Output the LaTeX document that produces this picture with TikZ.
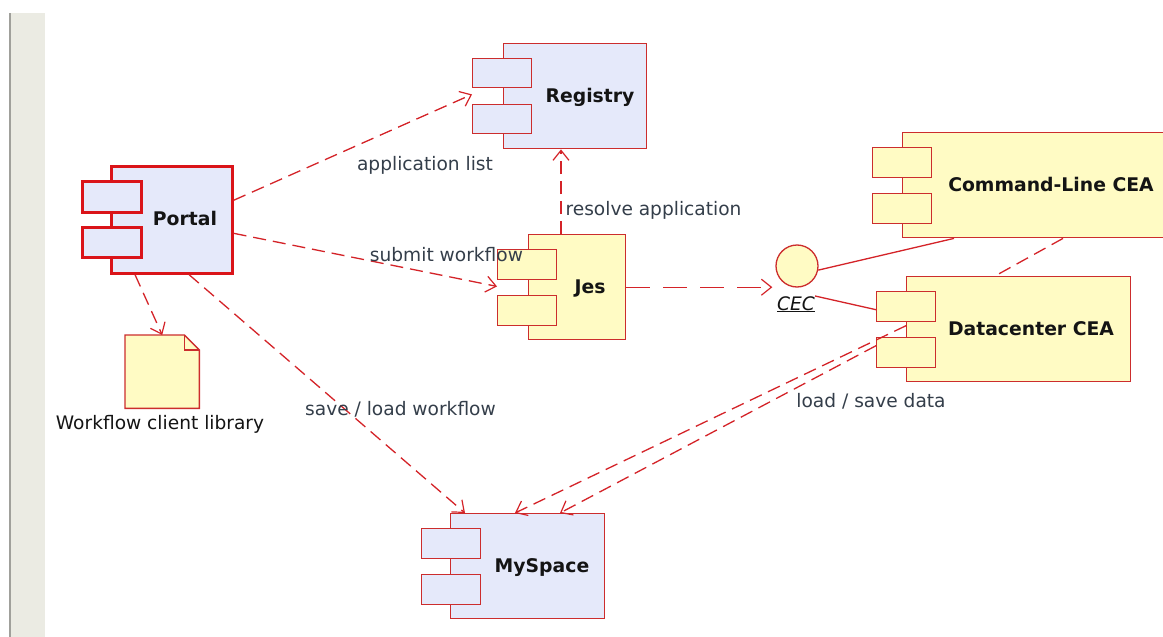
\documentclass[tikz,border=0pt]{standalone}
\usepackage{fontspec}
\setmainfont{DejaVu Sans}
\usetikzlibrary{arrows.meta,calc}
\definecolor{bord}{RGB}{204,45,45}
\definecolor{portalred}{RGB}{218,20,25}
\definecolor{lnred}{RGB}{212,35,40}
\definecolor{bluef}{RGB}{229,233,250}
\definecolor{yelf}{RGB}{255,251,196}
\definecolor{barf}{RGB}{235,235,227}
\definecolor{barl}{RGB}{160,160,155}
\definecolor{lblc}{RGB}{52,62,74}
\definecolor{namec}{RGB}{20,20,20}
\begin{document}
\begin{tikzpicture}[x=1pt,y=-1pt,
  outer/.style={draw=bord, line width=1.4pt, inner sep=0pt, anchor=north west},
  sbox/.style={draw=bord, line width=1.4pt, inner sep=0pt, anchor=north west, minimum width=59pt, minimum height=30pt},
  nm/.style={font=\fontsize{18.8pt}{22pt}\selectfont\bfseries, text=namec, inner sep=0pt, anchor=base},
  lb/.style={font=\fontsize{18.6pt}{22pt}\selectfont, text=lblc, inner sep=0pt, anchor=base},
  dep/.style={draw=lnred, line width=1.3pt, dash pattern=on 13pt off 7pt,
    -{Straight Barb[length=10pt,width=16pt,line width=1.2pt]}},
  depl/.style={draw=lnred, line width=1.3pt, dash pattern=on 13pt off 7pt},
  solidl/.style={draw=lnred, line width=1.3pt}]
\useasboundingbox (0,0) rectangle (1163,637);
\fill[white] (0,0) rectangle (1163,637);
\fill[barf] (9,13) rectangle (45,637);
\draw[barl, line width=1.5pt] (9.75,13) -- (9.75,637);

% Portal
\node[outer, fill=bluef, draw=portalred, line width=2.6pt, minimum width=121pt, minimum height=107pt] (portal) at (110,165) {};
\node[sbox, fill=bluef, draw=portalred, line width=2.6pt, minimum height=31pt] (portalA) at (81,180) {};
\node[sbox, fill=bluef, draw=portalred, line width=2.6pt] (portalB) at (81,226) {};
% Registry
\node[outer, fill=bluef, minimum width=143pt, minimum height=105pt] (registry) at (503,43) {};
\node[sbox, fill=bluef, minimum height=29pt] (regA) at (472,58) {};
\node[sbox, fill=bluef, minimum height=29pt] (regB) at (472,104) {};
% Jes
\node[outer, fill=yelf, minimum width=97pt, minimum height=105pt] (jes) at (528,234) {};
\node[sbox, fill=yelf] (jesA) at (497,249) {};
\node[sbox, fill=yelf] (jesB) at (497,295) {};
% Command-Line CEA
\node[outer, fill=yelf, minimum width=280pt, minimum height=105pt] (cl) at (902,132) {};
\node[sbox, fill=yelf] (clA) at (872,147) {};
\node[sbox, fill=yelf] (clB) at (872,193) {};
% Datacenter CEA
\node[outer, fill=yelf, minimum width=224pt, minimum height=105pt] (dc) at (906,276) {};
\node[sbox, fill=yelf] (dcA) at (876,291) {};
\node[sbox, fill=yelf] (dcB) at (876,337) {};
% MySpace
\node[outer, fill=bluef, minimum width=154pt, minimum height=105pt] (myspace) at (450,513) {};
\node[sbox, fill=bluef] (msA) at (421,528) {};
\node[sbox, fill=bluef] (msB) at (421,574) {};
% CEC interface
\node[circle, draw=bord, fill=yelf, line width=1.3pt, minimum size=42pt, inner sep=0pt] (cec) at (797,266) {};
% document
\node[inner sep=0pt, anchor=north west, minimum width=74pt, minimum height=73pt] (doc) at (125,335) {};
\filldraw[draw=bord, fill=yelf, line width=1.4pt] (doc.north west) -- ([xshift=-15pt]doc.north east) -- ([yshift=-15pt]doc.north east) -- (doc.south east) -- (doc.south west) -- cycle;
\draw[bord, line width=1.1pt] ([xshift=-15pt]doc.north east) |- ([yshift=-15pt]doc.north east);

% names
\node[nm] (portalT) at (185,225) {Portal};
\node[nm] (registryT) at (590,102) {Registry};
\node[nm] (jesT) at (590,293) {Jes};
\node[nm] (clT) at (1051,191) {Command-Line CEA};
\node[nm] (dcT) at (1031,335) {Datacenter CEA};
\node[nm] (myspaceT) at (542,572) {MySpace};
\node[lb, text=namec] (ceclbl) at (796,310) {\underline{\itshape CEC}};

% connectors
\coordinate (r1) at ([xshift=33pt]jes.north west);
\draw[dep] ([yshift=19.5pt]portal.east) -- ([yshift=-6pt]regA.south west);
\draw[dep] ([yshift=-13.5pt]portal.east) -- ([yshift=-6pt]jesA.south west);
\draw[dep] (r1) -- (r1 |- registry.south);
\draw[dep, dash pattern=on 24pt off 13pt] (jes.east) -- ($(jes.east -| cec.west)+(-3,0)$);
\draw[solidl] (cec.-11) -- ([xshift=52pt]cl.south west);
\draw[solidl] (ceclbl.north east) -- ([yshift=-3pt]dcA.west);
\draw[depl] ([xshift=161pt]cl.south west) -- ([xshift=89pt]dc.north west);
\draw[dep] ([xshift=25pt]portal.south west) -- (doc.north);
\draw[dep] ([xshift=79pt]portal.south west) -- ([xshift=15pt]myspace.north west);
\draw[dep] ([yshift=3.5pt]dc.west) -- ([xshift=65pt]myspace.north west);
\draw[dep] ([yshift=7pt]dcB.west) -- ([xshift=110pt]myspace.north west);

% labels
\node[lb] (l1) at (425,170) {application list};
\node[lb] (l2) at (446.5,261) {submit workflow};
\node[lb] (l3) at (653.5,215) {resolve application};
\node[lb] (l4) at (871,407) {load / save data};
\node[lb] (l5) at (400.5,415) {save / load workflow};
\node[lb, text=namec] (l6) at (160,429) {Workflow client library};
\end{tikzpicture}
\end{document}
